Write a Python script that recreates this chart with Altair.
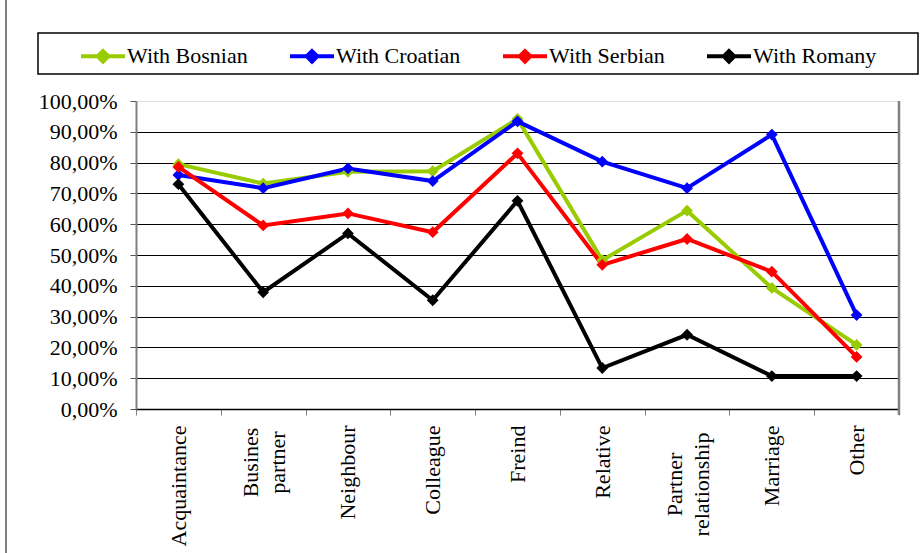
import altair as alt
import pandas as pd

categories = ["Acquaintance", "Busines partner", "Neighbour", "Colleague", "Freind",
              "Relative", "Partner relationship", "Marriage", "Other"]
series = ["With Bosnian", "With Croatian", "With Serbian", "With Romany"]
bosnian = [79.5, 73.2, 77.0, 77.2, 94.2, 48.3, 64.4, 39.3, 20.8]
croatian = [76.0, 71.7, 78.1, 74.0, 93.4, 80.3, 71.7, 89.1, 30.5]
serbian = [78.6, 59.6, 63.5, 57.4, 83.0, 46.8, 55.2, 44.6, 16.9]
romany = [73.0, 37.9, 57.0, 35.3, 67.6, 13.3, 24.1, 10.7, 10.7]
colors = ["#99CC00", "#0000FF", "#FF0000", "#000000"]

rows = []
for name, vals in zip(series, [bosnian, croatian, serbian, romany]):
    for cat, v in zip(categories, vals):
        rows.append({"category": cat, "series": name, "share": v / 100.0})
df = pd.DataFrame(rows)

W, H = 763, 308
SERIF = "Liberation Serif"
TWO_LINE = "indexof(datum.label, ' ') >= 0"

x_enc = alt.X(
    "category:N",
    sort=categories,
    bandPosition=0.5,
    scale=alt.Scale(type="band", paddingInner=0, paddingOuter=0),
    axis=alt.Axis(
        title=None,
        labelAngle=-90,
        labelExpr="split(datum.label, ' ')",
        labelFont=SERIF,
        labelFontSize=22,
        labelColor="black",
        labelLineHeight=27,
        labelAlign={"condition": {"test": TWO_LINE, "value": "center"}, "value": "right"},
        labelOffset={"condition": {"test": TWO_LINE, "value": -13}, "value": 0},
        labelPadding={
            "condition": [
                {"test": "datum.label == 'Busines partner'", "value": 47},
                {"test": "datum.label == 'Partner relationship'", "value": 69},
            ],
            "value": 10,
        },
        tickBand="extent",
        tickSize=6,
        tickColor="#808080",
        domainColor="black",
        domainWidth=1.5,
        grid=False,
    ),
)
y_enc = alt.Y(
    "share:Q",
    scale=alt.Scale(domain=[0, 1], nice=False),
    axis=alt.Axis(
        title=None,
        values=[i / 10 for i in range(11)],
        labelExpr="replace(format(datum.value, '.2%'), '.', ',')",
        labelFont=SERIF,
        labelFontSize=22,
        labelColor="black",
        labelPadding=13,
        tickSize=6,
        tickColor="#555555",
        domainColor="#808080",
        domainWidth=2,
        grid=True,
        gridColor="black",
        gridWidth=1.2,
        gridOpacity=alt.condition("datum.value >= 1", alt.value(0), alt.value(1)),
    ),
)
color_enc = alt.Color(
    "series:N",
    sort=series,
    scale=alt.Scale(domain=series, range=colors),
    legend=alt.Legend(
        title=None,
        orient="none",
        legendX=-57,
        legendY=-69,
        direction="horizontal",
        symbolType="M-1,0L1,0M0,-0.24L0.24,0L0,0.24L-0.24,0Z",
        symbolSize=1936,
        symbolStrokeWidth=4,
        labelFont=SERIF,
        labelFontSize=22,
        labelColor="black",
        labelOffset=0,
        columnPadding=34,
        padding=0,
    ),
)

base = alt.Chart(df)
lines = base.mark_line(strokeWidth=4).encode(x=x_enc, y=y_enc, color=color_enc)
points = base.mark_point(shape="diamond", filled=True, size=140, opacity=1).encode(
    x=x_enc, y=y_enc, color=color_enc
)

one = alt.Data(values=[{}])
legend_box = alt.Chart(one).mark_rect(filled=False, stroke="black", strokeWidth=1.5).encode(
    x=alt.value(-98), x2=alt.value(782), y=alt.value(-68), y2=alt.value(-27)
)
right_edge = alt.Chart(one).mark_rule(color="#808080", strokeWidth=2.5).encode(
    x=alt.value(W), y=alt.value(0), y2=alt.value(H + 6)
)
outer_left = alt.Chart(one).mark_rule(color="black", strokeWidth=1).encode(
    x=alt.value(-130), y=alt.value(-101), y2=alt.value(452)
)

chart = (
    alt.layer(legend_box, outer_left, right_edge, lines, points)
    .properties(
        width=W,
        height=H,
        padding={"left": 136, "top": 101, "right": 23, "bottom": 144},
        autosize=alt.AutoSizeParams(type="none"),
    )
    .configure_view(stroke=None)
    .configure(background="white")
)

chart.save("out.html", embed_options={"renderer": "svg", "actions": False})
